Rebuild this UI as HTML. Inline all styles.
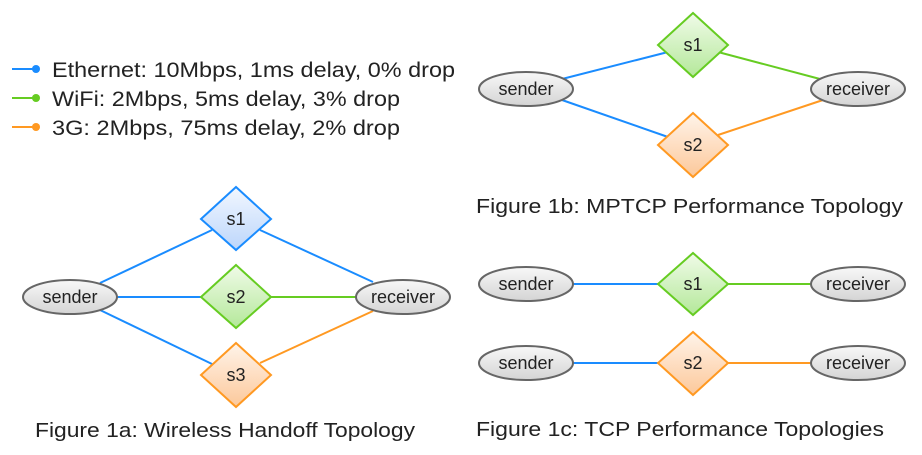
<!DOCTYPE html>
<html><head><meta charset="utf-8"><style>
html,body{margin:0;padding:0;background:#fff;}
svg{display:block;font-family:"Liberation Sans",sans-serif;}
</style></head><body>
<svg width="922" height="455" viewBox="0 0 922 455" xmlns="http://www.w3.org/2000/svg">
<defs>
<linearGradient id="gb" x1="0" y1="0" x2="0" y2="1"><stop offset="0" stop-color="#f2f7ff"/><stop offset="1" stop-color="#bcd6fb"/></linearGradient>
<linearGradient id="gg" x1="0" y1="0" x2="0" y2="1"><stop offset="0" stop-color="#f0fbe8"/><stop offset="1" stop-color="#b4e89a"/></linearGradient>
<linearGradient id="go" x1="0" y1="0" x2="0" y2="1"><stop offset="0" stop-color="#fff4ea"/><stop offset="1" stop-color="#fcc89a"/></linearGradient>
<linearGradient id="ge" x1="0" y1="0" x2="0" y2="1"><stop offset="0" stop-color="#f8f8f8"/><stop offset="1" stop-color="#d4d4d4"/></linearGradient>
</defs>
<g stroke-width="2" fill="none">
<line x1="12" y1="69" x2="36" y2="69" stroke="#1a8cff"/><circle cx="36" cy="69" r="4" fill="#1a8cff" stroke="none"/>
<line x1="12" y1="98" x2="36" y2="98" stroke="#66cc22"/><circle cx="36" cy="98" r="4" fill="#66cc22" stroke="none"/>
<line x1="12" y1="127" x2="36" y2="127" stroke="#ff9922"/><circle cx="36" cy="127" r="4" fill="#ff9922" stroke="none"/>
<line x1="100" y1="283" x2="212" y2="230" stroke="#1a8cff"/>
<line x1="260" y1="230" x2="373" y2="282" stroke="#1a8cff"/>
<line x1="117" y1="297" x2="201" y2="297" stroke="#1a8cff"/>
<line x1="271" y1="297" x2="356" y2="297" stroke="#66cc22"/>
<line x1="100" y1="310" x2="212" y2="364" stroke="#1a8cff"/>
<line x1="260" y1="363" x2="373" y2="311" stroke="#ff9922"/>
<line x1="562" y1="79" x2="668" y2="52" stroke="#1a8cff"/>
<line x1="718" y1="52" x2="820" y2="79" stroke="#66cc22"/>
<line x1="562" y1="100" x2="668" y2="137" stroke="#1a8cff"/>
<line x1="718" y1="135" x2="823" y2="100" stroke="#ff9922"/>
<line x1="573" y1="284" x2="658" y2="284" stroke="#1a8cff"/>
<line x1="728" y1="284" x2="811" y2="284" stroke="#66cc22"/>
<line x1="573" y1="363" x2="658" y2="363" stroke="#1a8cff"/>
<line x1="728" y1="363" x2="811" y2="363" stroke="#ff9922"/>
</g>
<g stroke-width="2">
<polygon points="236,187 271,219 236,250 201,219" fill="url(#gb)" stroke="#1a8cff"/>
<polygon points="236,265 271,297 236,328 201,297" fill="url(#gg)" stroke="#66cc22"/>
<polygon points="236,343 271,375 236,407 201,375" fill="url(#go)" stroke="#ff9922"/>
<polygon points="693,13 728,45 693,77 658,45" fill="url(#gg)" stroke="#66cc22"/>
<polygon points="693,113 728,145 693,177 658,145" fill="url(#go)" stroke="#ff9922"/>
<polygon points="693,253 728,284 693,315 658,284" fill="url(#gg)" stroke="#66cc22"/>
<polygon points="693,332 728,363 693,395 658,363" fill="url(#go)" stroke="#ff9922"/>
<g fill="url(#ge)" stroke="#666">
<ellipse cx="70" cy="297" rx="47" ry="17"/>
<ellipse cx="403" cy="297" rx="47" ry="17"/>
<ellipse cx="526" cy="89" rx="47" ry="17"/>
<ellipse cx="858" cy="89" rx="47" ry="17"/>
<ellipse cx="526" cy="284" rx="47" ry="17"/>
<ellipse cx="858" cy="284" rx="47" ry="17"/>
<ellipse cx="526" cy="363" rx="47" ry="17"/>
<ellipse cx="858" cy="363" rx="47" ry="17"/>
</g>
</g>
<g fill="#222" font-size="18" text-anchor="middle">
<text x="236" y="225">s1</text><text x="236" y="303">s2</text><text x="236" y="381">s3</text>
<text x="693" y="51">s1</text><text x="693" y="151">s2</text>
<text x="693" y="290">s1</text><text x="693" y="369">s2</text>
<text x="70" y="303">sender</text><text x="403" y="303">receiver</text>
<text x="526" y="95">sender</text><text x="858" y="95">receiver</text>
<text x="526" y="290">sender</text><text x="858" y="290">receiver</text>
<text x="526" y="369">sender</text><text x="858" y="369">receiver</text>
</g>
<g fill="#222" font-size="21">
<text x="52" y="77" textLength="403" lengthAdjust="spacingAndGlyphs">Ethernet: 10Mbps, 1ms delay, 0% drop</text>
<text x="52" y="106" textLength="348" lengthAdjust="spacingAndGlyphs">WiFi: 2Mbps, 5ms delay, 3% drop</text>
<text x="52" y="135" textLength="348" lengthAdjust="spacingAndGlyphs">3G: 2Mbps, 75ms delay, 2% drop</text>
</g>
<g fill="#222" font-size="20">
<text x="35" y="437" textLength="380" lengthAdjust="spacingAndGlyphs">Figure 1a: Wireless Handoff Topology</text>
<text x="476" y="213" textLength="427" lengthAdjust="spacingAndGlyphs">Figure 1b: MPTCP Performance Topology</text>
<text x="476" y="436" textLength="408" lengthAdjust="spacingAndGlyphs">Figure 1c: TCP Performance Topologies</text>
</g>
</svg>
</body></html>
